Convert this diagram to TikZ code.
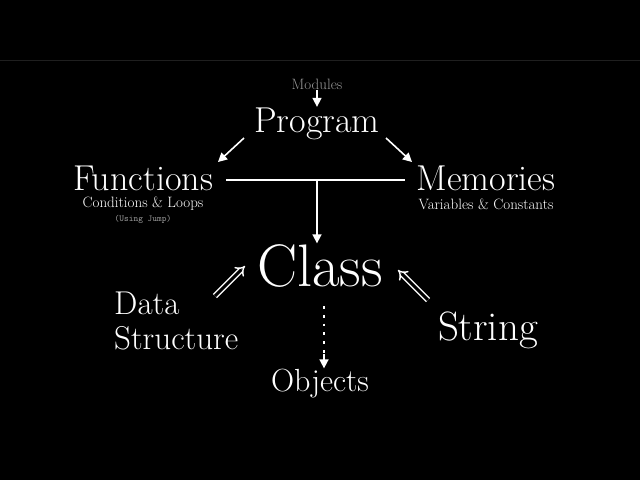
\documentclass[tikz,border=0pt]{standalone}
\usepackage{tikz}
\usetikzlibrary{arrows.meta}

\tikzset{
  txt/.style = {text=white, inner sep=1pt},
  chalk/.style = {draw=white, line width=1.6pt},
  tip/.style = {arrows = {-Triangle[width=9pt, length=9pt]}},
  hollow/.style = {draw=white, double=black, double distance=3pt, line width=1.4pt, -{Implies}},
}

\begin{document}
\begin{tikzpicture}[x=1pt, y=-1pt]
\fill[black] (0, 0) rectangle (640, 480);
\useasboundingbox (0, 0) rectangle (640, 480);
\draw[white!12!black, line width=1pt] (0, 60) -- (640, 60);

\node[txt, text=gray!80, font=\fontsize{15}{17}\selectfont] (modules) at (317, 84) {Modules};
\node[txt, font=\fontsize{36}{40}\selectfont] (program) at (317, 124) {Program};
\node[txt, font=\fontsize{36}{40}\selectfont] (functions) at (143, 178) {Functions};
\node[txt, font=\fontsize{15}{17}\selectfont] (conditions) at (143, 204) {Conditions \& Loops};
\node[txt, text=gray!80, font=\ttfamily\fontsize{9}{10}\selectfont] (jump) at (143, 219) {(Using Jump)};
\node[txt, font=\fontsize{36}{40}\selectfont] (memories) at (486, 178) {Memories};
\node[txt, font=\fontsize{15}{17}\selectfont] (variables) at (486, 204) {Variables \& Constants};
\node[txt, font=\fontsize{60}{64}\selectfont] (class) at (320, 266) {Class};
\node[txt, anchor=west, align=left, font=\fontsize{33}{35}\selectfont] (data) at (113, 321) {Data\\Structure};
\node[txt, font=\fontsize{41}{44}\selectfont] (string) at (488, 330) {String};
\node[txt, font=\fontsize{32}{34}\selectfont] (objects) at (320, 384) {Objects};

\coordinate (split) at (317, 180);
\coordinate (bar_l) at (226, 180);
\coordinate (bar_r) at (405, 180);
\draw[chalk, tip] (modules) -- (program);
\draw[chalk, tip] (244, 138) -- (218, 162);
\draw[chalk, tip] (386, 138) -- (412, 162);
\draw[chalk] (bar_l) -- (bar_r);
\draw[chalk, tip] (split) -- (class.north -| split);
\draw[hollow] (215, 296) -- (245, 266);
\draw[hollow] (428, 300) -- (398, 270);
\draw[white, line width=2.8pt, dash pattern=on 2.8pt off 6pt] (324, 306) -- (324, 354);
\draw[chalk, tip] (324, 354) -- (objects.north -| 324, 0);
\end{tikzpicture}
\end{document}
